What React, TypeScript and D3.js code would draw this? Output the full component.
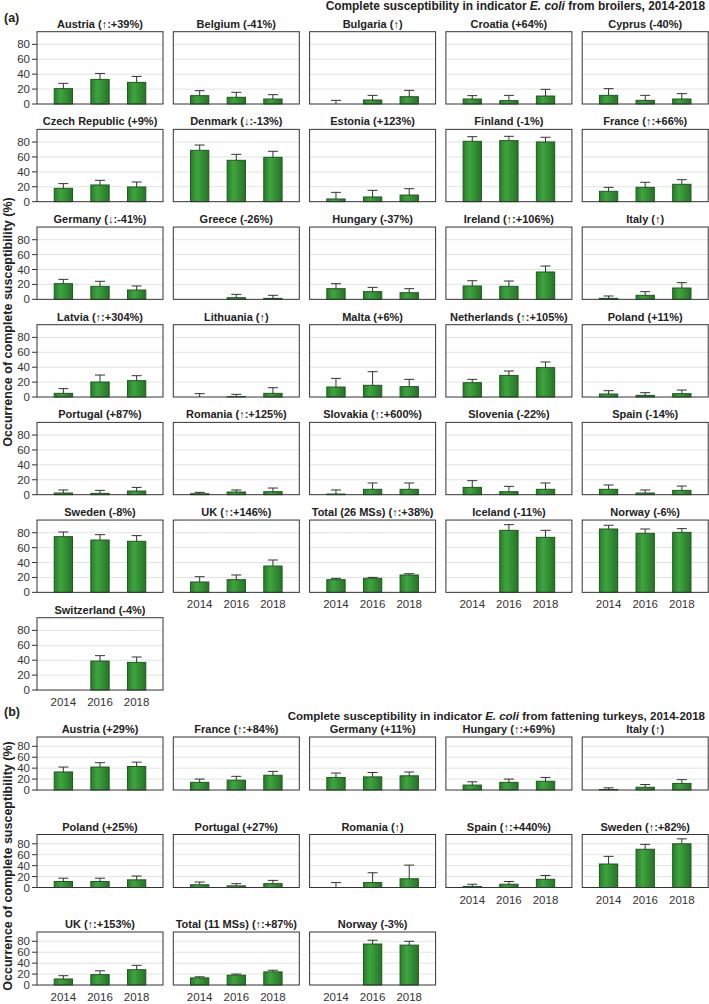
import React from "react";
import * as d3 from "d3";

const years = ["2014", "2016", "2018"];
const yTicks = [0, 20, 40, 60, 80];
const gridTicks = [20, 40, 60, 80];

const broilerTitles = [
  "Austria (↑:+39%)", "Belgium (-41%)", "Bulgaria (↑)", "Croatia (+64%)", "Cyprus (-40%)",
  "Czech Republic (+9%)", "Denmark (↓:-13%)", "Estonia (+123%)", "Finland (-1%)", "France (↑:+66%)",
  "Germany (↓:-41%)", "Greece (-26%)", "Hungary (-37%)", "Ireland (↑:+106%)", "Italy (↑)",
  "Latvia (↑:+304%)", "Lithuania (↑)", "Malta (+6%)", "Netherlands (↑:+105%)", "Poland (+11%)",
  "Portugal (+87%)", "Romania (↑:+125%)", "Slovakia (↑:+600%)", "Slovenia (-22%)", "Spain (-14%)",
  "Sweden (-8%)", "UK (↑:+146%)", "Total (26 MSs) (↑:+38%)", "Iceland (-11%)", "Norway (-6%)",
  "Switzerland (-4%)",
];
const broilerValues: (number | null)[][] = [
  [20.6, 33, 29], [11.2, 9, 6.7], [0, 5.4, 9.8], [6.7, 4.5, 10.7], [11.6, 4.9, 6.7],
  [17.9, 22.4, 19.7], [68.9, 55.5, 59.5], [3.6, 6.3, 8.9], [81, 81.9, 80.1], [13.9, 19.2, 23.3],
  [21, 17.4, 12.5], [null, 2.2, 1.3], [14.3, 10.3, 8.9], [17.9, 17.4, 36.7], [1.3, 5.4, 15.2],
  [4.9, 20.1, 21.9], [0, 0.5, 4.9], [13.4, 15.7, 13.9], [19.2, 29, 39.4], [4, 2.2, 4.5],
  [2.2, 1.8, 4.9], [1.3, 3.6, 4], [0.9, 7.2, 7.2], [9.8, 4, 7.2], [7.2, 2.2, 5.8],
  [74.7, 70.2, 68.5], [13.9, 17, 35.3], [17, 18.8, 23.3], [null, 83.2, 73.8], [85, 79.2, 80.5],
  [null, 38.9, 37.1],
];
const broilerUpper: (number | null)[][] = [
  [27.7, 41, 37], [17.9, 15.7, 12.5], [4.9, 11.6, 18.3], [11.2, 11.6, 19.7], [20.6, 11.6, 13.9],
  [24.2, 28.6, 26.4], [76, 63.5, 67.6], [12.5, 15.2, 17.4], [87.2, 87.7, 86.4], [19.2, 26, 29.5],
  [26.8, 24.2, 17.9], [null, 6.7, 5.4], [21, 16.1, 14.3], [25, 24.6, 44.7], [4.5, 10.3, 22.4],
  [11.2, 29.5, 28.6], [4.5, 3.6, 12.5], [25, 34, 23.7], [23.7, 34.9, 47], [8.5, 5.8, 9.4],
  [6.3, 5.8, 9.8], [3.1, 6.3, 8.9], [6.3, 15.7, 15.7], [18.8, 11.2, 15.7], [13, 6.3, 11.6],
  [81, 77.4, 76.1], [21, 23.3, 43.4], [18.8, 20.1, 25], [null, 90.8, 83.2], [90, 85, 85.5],
  [null, 46.1, 44.3],
];

const turkeyTitles = [
  "Austria (+29%)", "France (↑:+84%)", "Germany (+11%)", "Hungary (↑:+69%)", "Italy (↑)",
  "Poland (+25%)", "Portugal (+27%)", "Romania (↑)", "Spain (↑:+440%)", "Sweden (↑:+82%)",
  "UK (↑:+153%)", "Total (11 MSs) (↑:+87%)", "Norway (-3%)",
];
const turkeyValues: (number | null)[][] = [
  [33, 42, 43], [14, 18, 27], [23, 24, 26], [9, 14, 16], [1, 5, 12],
  [11, 11, 14], [5, 3, 7], [0, 9, 16], [2, 6, 15], [43, 70, 80],
  [11, 19, 28], [13, 18, 24], [null, 75, 73],
];
const turkeyUpper: (number | null)[][] = [
  [42, 50, 51], [20, 25, 34], [31, 32, 33], [15, 20, 23], [4, 10, 19],
  [17, 17, 21], [10, 7, 13], [9, 27, 41], [6, 11, 22], [57, 79, 89],
  [17, 26, 36], [15, 20, 27], [null, 82, 80],
];

const FONT = "'Liberation Sans', Arial, Helvetica, sans-serif";
const COL_X0 = 37;
const COL_STEP = 136.3;
const PLOT_W = 126;
const Y_MAX = 97;

type PanelProps = {
  x: number; top: number; h: number; title: string;
  values: (number | null)[]; upper: (number | null)[];
  showY: boolean; showX: boolean;
};

function Panel({ x, top, h, title, values, upper, showY, showX }: PanelProps) {
  const xs = d3.scaleBand<string>().domain(years).range([0, PLOT_W]).paddingInner(0.5).paddingOuter(0.47);
  const ys = d3.scaleLinear().domain([0, Y_MAX]).range([h, 0]);
  const bw = xs.bandwidth();
  return (
    <g transform={`translate(${x},${top})`}>
      <text x={PLOT_W / 2} y={-4} textAnchor="middle" fontWeight="bold" fontSize={11} fill="#222">{title}</text>
      {gridTicks.map((t) => (
        <line key={t} x1={0} x2={PLOT_W} y1={ys(t)} y2={ys(t)} stroke="#e2e2e2" strokeWidth={1} />
      ))}
      {years.map((yr, i) => {
        const v = values[i];
        if (v === null || v === undefined) return null;
        const bx = xs(yr) as number;
        return (
          <rect key={yr} x={bx} y={ys(v)} width={bw} height={Math.max(0, h - ys(v))}
            fill="url(#barGrad)" stroke="#1e5a1e" strokeWidth={1} />
        );
      })}
      {years.map((yr, i) => {
        const v = values[i];
        const u = upper[i];
        if (v === null || u === null || v === undefined || u === undefined) return null;
        const cx = (xs(yr) as number) + bw / 2;
        return (
          <g key={"e" + yr} stroke="#333" strokeWidth={1}>
            <line x1={cx} x2={cx} y1={ys(v)} y2={ys(u)} />
            <line x1={cx - 5} x2={cx + 5} y1={ys(u)} y2={ys(u)} />
          </g>
        );
      })}
      <rect x={0} y={0} width={PLOT_W} height={h} fill="none" stroke="#333" strokeWidth={1} />
      {showY && yTicks.map((t) => (
        <g key={"y" + t}>
          <line x1={-5} x2={0} y1={ys(t)} y2={ys(t)} stroke="#333" />
          <text x={-7} y={ys(t)} dy="0.35em" textAnchor="end" fontSize={11.5} fill="#333">{t}</text>
        </g>
      ))}
      {showX && years.map((yr) => (
        <text key={"x" + yr} x={(xs(yr) as number) + bw / 2} y={h + 16} textAnchor="middle" fontSize={11.5} fill="#333">{yr}</text>
      ))}
    </g>
  );
}

export default function App() {
  // Part (a)
  const aBottom0 = 104;
  const aRowStep = 97.67;
  const aH = 72.3;
  const aCount = broilerTitles.length;
  const aPanels = broilerTitles.map((t, i) => {
    const row = Math.floor(i / 5);
    const col = i % 5;
    const bottom = aBottom0 + row * aRowStep;
    const hasBelow = i + 5 < aCount;
    return (
      <Panel key={"a" + i} x={COL_X0 + col * COL_STEP} top={bottom - aH} h={aH} title={t}
        values={broilerValues[i]} upper={broilerUpper[i]} showY={col === 0} showX={!hasBelow} />
    );
  });

  // Part (b)
  const bBottom0 = 790;
  const bRowStep = 97.5;
  const bH = 53;
  const bCount = turkeyTitles.length;
  const bPanels = turkeyTitles.map((t, i) => {
    const row = Math.floor(i / 5);
    const col = i % 5;
    const bottom = bBottom0 + row * bRowStep;
    const hasBelow = i + 5 < bCount;
    return (
      <Panel key={"b" + i} x={COL_X0 + col * COL_STEP} top={bottom - bH} h={bH} title={t}
        values={turkeyValues[i]} upper={turkeyUpper[i]} showY={col === 0} showX={!hasBelow} />
    );
  });

  return (
    <svg width={709} height={1004} style={{ position: "absolute", left: 0, top: 0, background: "#fff" }}
      fontFamily={FONT}>
      <defs>
        <linearGradient id="barGrad" x1="0" x2="1" y1="0" y2="0">
          <stop offset="0%" stopColor="#2a7d2a" />
          <stop offset="35%" stopColor="#3ea53e" />
          <stop offset="100%" stopColor="#267326" />
        </linearGradient>
      </defs>
      <rect x={0} y={0} width={709} height={1004} fill="#fff" />
      <text x={705} y={9.5} textAnchor="end" fontWeight="bold" fontSize={11.9} fill="#222">
        Complete susceptibility in indicator <tspan fontStyle="italic">E. coli</tspan> from broilers, 2014-2018
      </text>
      <text x={4} y={21.5} fontWeight="bold" fontSize={12.5} fill="#222">(a)</text>
      <text transform="translate(12,322) rotate(-90)" textAnchor="middle" fontWeight="bold" fontSize={12.5} fill="#222">
        Occurrence of complete susceptibility (%)
      </text>
      {aPanels}

      <text x={705} y={720} textAnchor="end" fontWeight="bold" fontSize={11.5} fill="#222">
        Complete susceptibility in indicator <tspan fontStyle="italic">E. coli</tspan> from fattening turkeys, 2014-2018
      </text>
      <text x={4} y={716} fontWeight="bold" fontSize={12.5} fill="#222">(b)</text>
      <text transform="translate(12,866) rotate(-90)" textAnchor="middle" fontWeight="bold" fontSize={12.5} fill="#222">
        Occurrence of complete susceptibility (%)
      </text>
      {bPanels}
    </svg>
  );
}
